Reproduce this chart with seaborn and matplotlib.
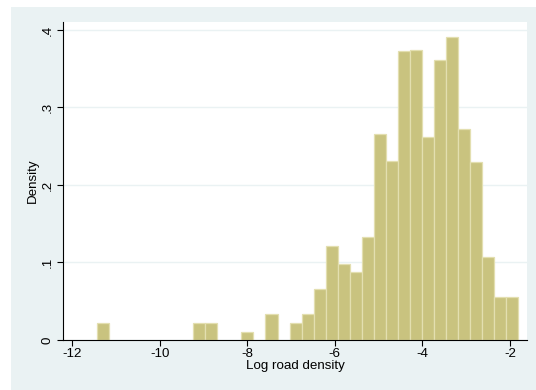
import numpy as np
import pandas as pd
import matplotlib
matplotlib.use("Agg")
import matplotlib.pyplot as plt
import seaborn as sns

# Histogram of log road density: 35 equal-width bins starting at the sample minimum
bin_start = -11.43
bin_width = 0.2748
n_bins = 35
# Density height of each bin, left to right
bin_density = [
    0.0215, 0.0, 0.0, 0.0, 0.0, 0.0, 0.0, 0.0,
    0.0215, 0.0215, 0.0, 0.0, 0.0108, 0.0, 0.0331, 0.0,
    0.0215, 0.0331, 0.0662, 0.1213, 0.0980, 0.0882, 0.1329,
    0.2654, 0.2310, 0.3725, 0.3742, 0.2624, 0.3613, 0.3905,
    0.2723, 0.2297, 0.1075, 0.0551, 0.0551,
]
x_ticks = [-12, -10, -8, -6, -4, -2]
y_ticks = [0, 0.1, 0.2, 0.3, 0.4]
y_tick_labels = ["0", ".1", ".2", ".3", ".4"]

edges = [float(e) for e in bin_start + bin_width * np.arange(n_bins + 1)]
centers = [(a + b) / 2 for a, b in zip(edges[:-1], edges[1:])]
hist_df = pd.DataFrame({"log_road_density": centers, "density": bin_density})

sns.set_theme(style="white")
plt.rcParams["font.family"] = ["Liberation Sans", "DejaVu Sans"]

BG = "#EAF2F3"
FS = 9.6
fig = plt.figure(figsize=(5.36, 3.90), dpi=100)
fig.patch.set_facecolor("white")
fig.add_artist(plt.Rectangle((11 / 536, 0), 1 - 11 / 536, (390 - 7) / 390,
                             transform=fig.transFigure, facecolor=BG,
                             edgecolor="none", zorder=-10))

ax = fig.add_axes([63 / 536, 50 / 390, 464 / 536, 318 / 390])
ax.set_facecolor("white")

sns.histplot(data=hist_df, x="log_road_density", weights="density", bins=edges,
             stat="count", color="#C9C37F", alpha=1, edgecolor="#E3DFB0",
             linewidth=0.9, ax=ax)
for p in list(ax.patches):
    if p.get_height() <= 0:
        p.remove()

ax.set_xlim(-12.205, -1.612)
ax.set_ylim(0, 0.4103)
ax.set_xticks(x_ticks)
ax.set_xticklabels([str(t) for t in x_ticks])
ax.set_yticks(y_ticks)
ax.set_yticklabels(y_tick_labels, rotation=90, va="center")

ax.yaxis.grid(True, color=BG, linewidth=1.0)
ax.xaxis.grid(False)
ax.set_axisbelow(True)

for s in ["top", "right"]:
    ax.spines[s].set_visible(False)
for s in ["left", "bottom"]:
    ax.spines[s].set_color("black")
    ax.spines[s].set_linewidth(0.8)

ax.tick_params(axis="both", which="major", direction="out", length=4.5,
               width=0.8, color="black", labelsize=FS, labelcolor="black",
               bottom=True, left=True)
ax.tick_params(axis="x", pad=1.5)
ax.tick_params(axis="y", pad=2)

ax.set_xlabel("Log road density", fontsize=FS, color="black", labelpad=0)
ax.set_ylabel("Density", fontsize=FS, color="black", labelpad=2)

fig.savefig("out.png", dpi=100, facecolor=fig.get_facecolor())
